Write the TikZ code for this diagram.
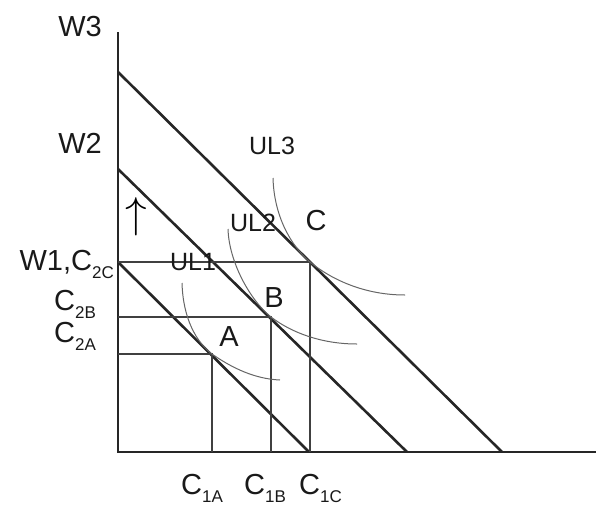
\documentclass[tikz,border=0pt]{standalone}
\usepackage{fontspec}
\setmainfont{Liberation Sans}
\begin{document}
\begin{tikzpicture}[x=1pt,y=-1pt,
  axisline/.style={line width=2pt,black!85},
  budget/.style={line width=2.6pt,black!85},
  guide/.style={line width=1.3pt,black!75},
  indiff/.style={line width=1pt,black!60},
  big/.style={font=\fontsize{29}{30}\selectfont,inner sep=0pt,text=black!90},
  mid/.style={font=\fontsize{25}{26}\selectfont,inner sep=0pt,text=black!90}]
\useasboundingbox (0,0) rectangle (596,506);
\newcommand{\sbs}[1]{\raisebox{-0.3em}{\fontsize{17}{17}\selectfont #1}}
% axes
\coordinate (O) at (118,452);
\coordinate (Ytop) at (118,32);
\coordinate (Xend) at (596,452);
\draw[axisline] (Ytop) -- (O) -- (Xend);
% budget lines
\coordinate (W3) at (118,72);
\coordinate (W3e) at (502,452);
\coordinate (W2) at (118,169);
\coordinate (W2e) at (407,452);
\coordinate (W1) at (118,262);
\coordinate (W1e) at (309,452);
\draw[budget] (W3) -- (W3e);
\draw[budget] (W2) -- (W2e);
\draw[budget] (W1) -- (W1e);
% points
\coordinate (pC) at (310,262);
\coordinate (pB) at (271,317);
\coordinate (pA) at (212,354);
\coordinate (yC) at (118,262);
\coordinate (yB) at (118,317);
\coordinate (yA) at (118,354);
\coordinate (xC) at (310,452);
\coordinate (xB) at (271,452);
\coordinate (xA) at (212,452);
\draw[guide] (yC) -- (pC) -- (xC);
\draw[guide] (yB) -- (pB) -- (xB);
\draw[guide] (yA) -- (pA) -- (xA);
% indifference curves
\coordinate (u1s) at (182,283);
\coordinate (u1e) at (280,380);
\coordinate (u2s) at (228,229);
\coordinate (u2e) at (357,344);
\coordinate (u3s) at (273,178);
\coordinate (u3e) at (405,295);
\draw[indiff] (u1s) .. controls (183,318) and (196,342) .. (pA) .. controls (232,368) and (255,379) .. (u1e);
\draw[indiff] (u2s) .. controls (229,262) and (250,300) .. (pB) .. controls (292,333) and (322,344) .. (u2e);
\draw[indiff] (u3s) .. controls (274,215) and (290,245) .. (pC) .. controls (332,280) and (365,295) .. (u3e);
% labels
\node[big] (lW3) at (80,27) {W3};
\node[big] (lW2) at (80,143) {W2};
\node[big,anchor=base east] (lW1) at (114,270) {W1,C\sbs{2C}};
\node[big,anchor=base west] (lC2B) at (54,310) {C\sbs{2B}};
\node[big,anchor=base west] (lC2A) at (54,342) {C\sbs{2A}};
\node[inner sep=0pt] (arr) at (136,217) {\resizebox{!}{30pt}{$\uparrow$}};
\node[mid] (lUL1) at (193,262) {UL1};
\node[mid] (lUL2) at (253,223) {UL2};
\node[mid] (lUL3) at (272,146) {UL3};
\node[big] (lC) at (316,221) {C};
\node[big] (lB) at (274,298) {B};
\node[big] (lA) at (229,337) {A};
\node[big,anchor=base west] (lC1A) at (181,494) {C\sbs{1A}};
\node[big,anchor=base west] (lC1B) at (244,494) {C\sbs{1B}};
\node[big,anchor=base west] (lC1C) at (299,494) {C\sbs{1C}};
\end{tikzpicture}
\end{document}
